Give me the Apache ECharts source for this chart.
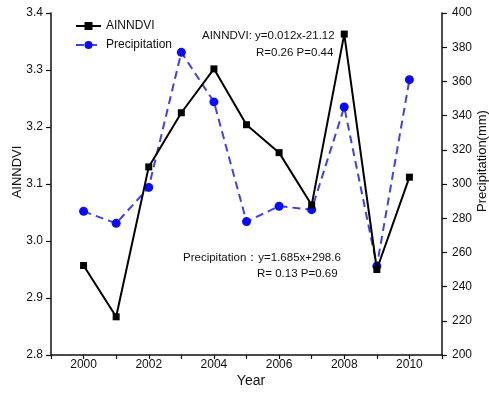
<!DOCTYPE html>
<html>
<head>
<meta charset="utf-8">
<script src="https://cdn.jsdelivr.net/npm/echarts@6/dist/echarts.min.js"></script>
<style>
  html, body { margin: 0; padding: 0; background: #fff; }
  #chart { width: 489px; height: 393px; }
</style>
</head>
<body>
<div id="chart"></div>
<script>
// values
const years = [2000, 2001, 2002, 2003, 2004, 2005, 2006, 2007, 2008, 2009, 2010];
const ainndvi = [2.957, 2.867, 3.130, 3.225, 3.302, 3.204, 3.155, 3.063, 3.363, 2.950, 3.112];
const precipitation = [284, 277, 298, 377, 348, 278, 287, 285, 345, 252, 361];

const FONT = "'Liberation Sans', Arial, sans-serif";
const INK = "#111";

const chart = echarts.init(document.getElementById("chart"));

const option = {
  backgroundColor: "#fff",
  animation: false,
  textStyle: { fontFamily: FONT, color: INK },
  grid: { left: 51, right: 47, top: 13, bottom: 38 },
  legend: {
    orient: "vertical",
    left: 70,
    top: 15,
    itemWidth: 25,
    itemHeight: 10,
    itemGap: 7,
    textStyle: { fontSize: 12, color: INK, fontFamily: FONT },
    data: ["AINNDVI", "Precipitation"],
  },
  xAxis: {
    type: "value",
    min: 1999,
    max: 2011,
    interval: 1,
    splitLine: { show: false },
    axisLine: { lineStyle: { color: INK, width: 1.5 } },
    axisTick: { inside: false, length: 4, lineStyle: { color: INK, width: 1.2 } },
    axisLabel: {
      margin: 4,
      fontSize: 12,
      color: INK,
      fontFamily: FONT,
      // only even years carry a label, odd years just a tick
      formatter: (v) => (v % 2 === 0 && v >= 2000 && v <= 2010 ? String(v) : ""),
    },
  },
  yAxis: [
    {
      type: "value",
      min: 2.8,
      max: 3.4,
      interval: 0.1,
      splitLine: { show: false },
      axisLine: { show: true, lineStyle: { color: INK, width: 1.5 } },
      axisTick: { show: true, length: 5, lineStyle: { color: INK, width: 1.2 } },
      axisLabel: {
        margin: 8,
        fontSize: 12,
        color: INK,
        fontFamily: FONT,
        formatter: (v) => v.toFixed(1),
      },
    },
    {
      type: "value",
      min: 200,
      max: 400,
      interval: 20,
      position: "right",
      splitLine: { show: false },
      axisLine: { show: true, lineStyle: { color: INK, width: 1.5 } },
      axisTick: { show: true, length: 5, lineStyle: { color: INK, width: 1.2 } },
      axisLabel: { margin: 10, fontSize: 12, color: INK, fontFamily: FONT },
    },
  ],
  series: [
    {
      name: "AINNDVI",
      type: "line",
      yAxisIndex: 0,
      data: years.map((y, i) => [y, ainndvi[i]]),
      symbol: "rect",
      symbolSize: 7,
      itemStyle: { color: "#000" },
      lineStyle: { color: "#000", width: 2 },
      z: 3,
    },
    {
      name: "Precipitation",
      type: "line",
      yAxisIndex: 1,
      data: years.map((y, i) => [y, precipitation[i]]),
      symbol: "circle",
      symbolSize: 9,
      itemStyle: { color: "#0a0aff" },
      lineStyle: { color: "#4040ec", width: 2, type: [8, 5] },
      z: 2,
    },
  ],
  graphic: [
    // axis titles
    {
      type: "text", x: 17, y: 172, rotation: Math.PI / 2,
      style: { text: "AINNDVI", font: "13px " + FONT, fill: INK, align: "center", verticalAlign: "middle" },
    },
    {
      type: "text", x: 482, y: 161, rotation: Math.PI / 2,
      style: { text: "Precipitation(mm)", font: "13px " + FONT, fill: INK, align: "center", verticalAlign: "middle" },
    },
    {
      type: "text", x: 251, y: 381,
      style: { text: "Year", font: "14px " + FONT, fill: INK, align: "center", verticalAlign: "middle" },
    },
    // regression notes
    {
      type: "text", x: 202, y: 36,
      style: { text: "AINNDVI: y=0.012x-21.12", font: "11.5px " + FONT, fill: INK, verticalAlign: "middle" },
    },
    {
      type: "text", x: 256, y: 53,
      style: { text: "R=0.26 P=0.44", font: "11.5px " + FONT, fill: INK, verticalAlign: "middle" },
    },
    {
      type: "text", x: 183, y: 258,
      style: { text: "Precipitation：y=1.685x+298.6", font: "11.5px " + FONT, fill: INK, verticalAlign: "middle" },
    },
    {
      type: "text", x: 257, y: 274,
      style: { text: "R= 0.13 P=0.69", font: "11.5px " + FONT, fill: INK, verticalAlign: "middle" },
    },
  ],
};

chart.setOption(option);
</script>
</body>
</html>
